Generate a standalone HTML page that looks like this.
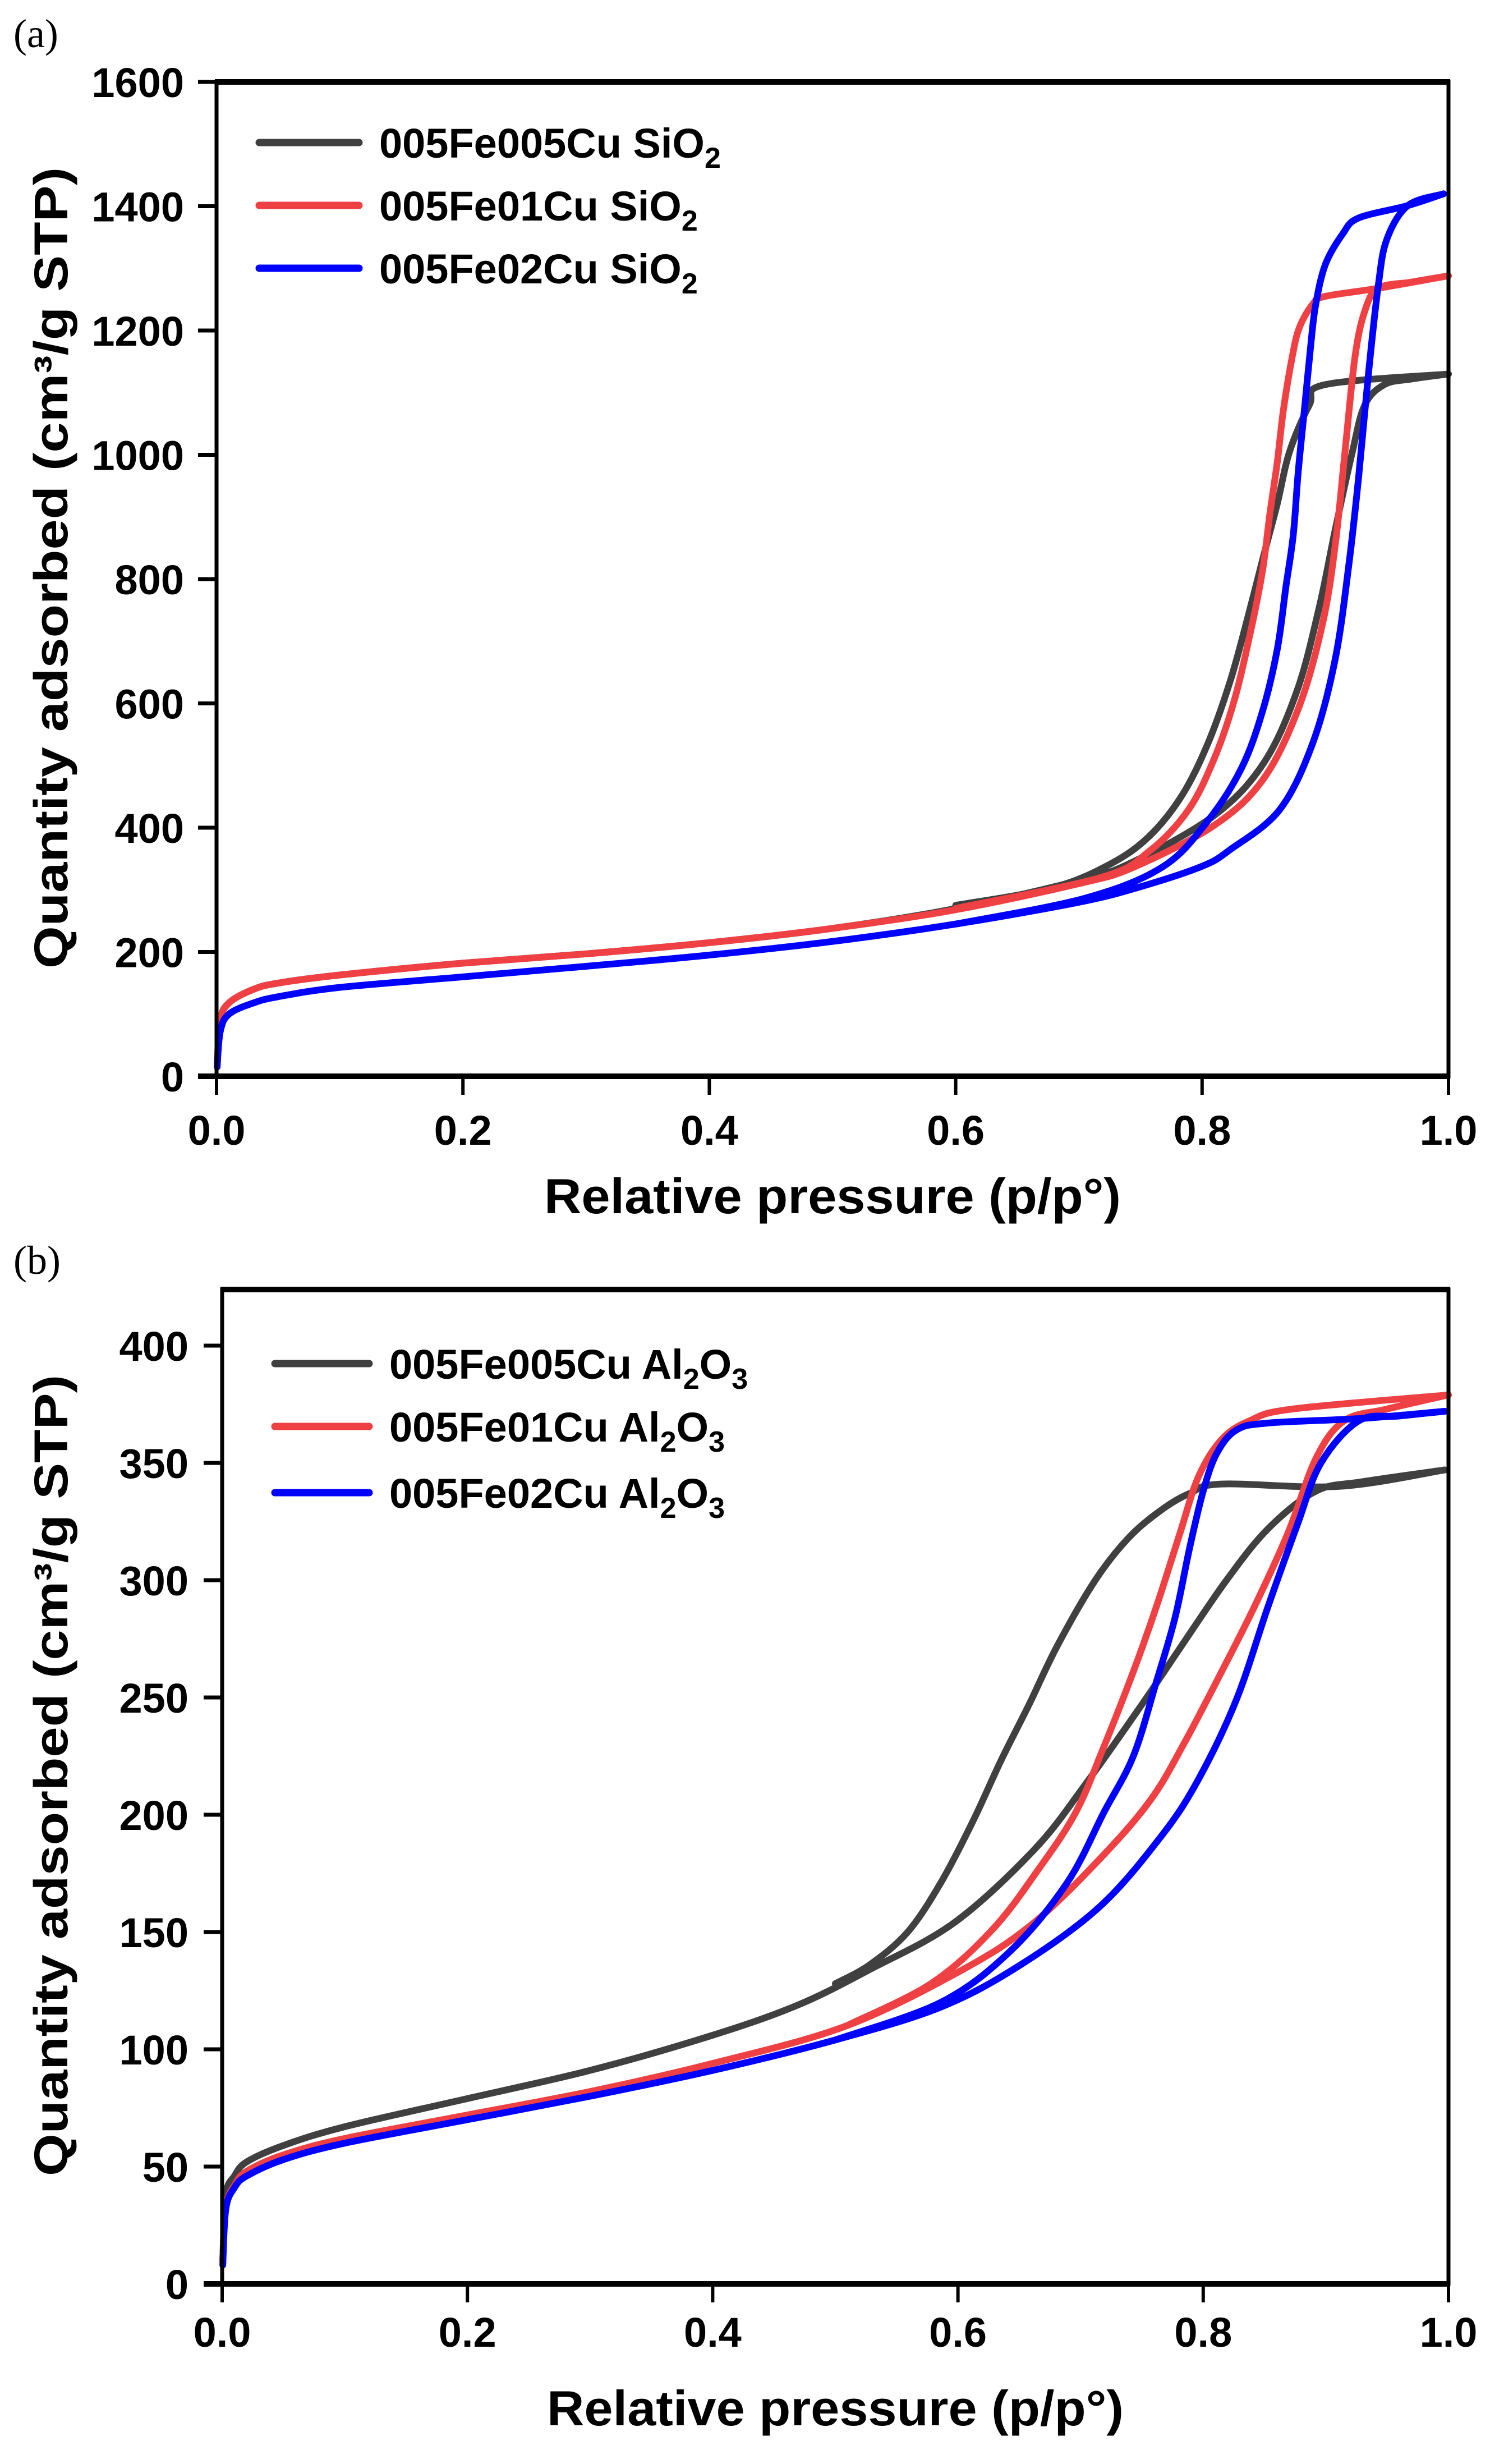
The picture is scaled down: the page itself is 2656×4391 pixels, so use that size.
<!DOCTYPE html>
<html><head><meta charset="utf-8"><style>
html,body{margin:0;padding:0;background:#fff}
svg{display:block}
text{font-family:"Liberation Sans",Arial,sans-serif;font-weight:bold;fill:#000}
</style></head><body>
<svg id="fig" width="2656" height="4391" viewBox="0 0 2656 4391" xmlns="http://www.w3.org/2000/svg">
<rect width="2656" height="4391" fill="#fff"/>
</svg>
<script>
// ===== Panel (a) data: SiO2 =====
const xTicks = [0, 0.2, 0.4, 0.6, 0.8, 1.0];
const xTickLabels = ["0.0","0.2","0.4","0.6","0.8","1.0"];
const aYTicks = [0,200,400,600,800,1000,1200,1400,1600];
const bYTicks = [0,50,100,150,200,250,300,350,400];

// 005Fe005Cu SiO2
const a1AdsP = [0.0005,0.003,0.01,0.03,0.05,0.1,0.2,0.3,0.4,0.5,0.6,0.7,0.744,0.810,0.850,0.877,0.895,0.908,0.922,0.932,0.948,0.97,1.0];
const a1AdsV = [20,90,118,140,150,163,182,197,215,238,270,315,345,420,504,620,754,879,1005,1080,1113,1122,1130];
const a1DesP = [1.0,0.900,0.887,0.871,0.861,0.850,0.837,0.823,0.805,0.784,0.757,0.725,0.678,0.6];
const a1DesV = [1130,1113,1080,1005,921,838,738,637,537,453,386,341,303,275];
// 005Fe01Cu SiO2
const a2AdsP = [0.0005,0.003,0.01,0.03,0.05,0.1,0.2,0.3,0.4,0.5,0.6,0.7,0.744,0.810,0.850,0.879,0.898,0.908,0.916,0.924,0.932,0.943,0.97,1.0];
const a2AdsV = [15,88,118,140,150,163,182,197,215,238,268,310,336,404,479,596,730,854,1005,1156,1231,1268,1278,1288];
const a2DesP = [1.0,0.943,0.900,0.890,0.879,0.873,0.866,0.861,0.855,0.849,0.839,0.826,0.810,0.789,0.757,0.718,0.6];
const a2DesV = [1288,1268,1255,1243,1205,1156,1072,988,905,813,712,604,512,429,362,320,270];
// 005Fe02Cu SiO2
const a3AdsP = [0.0005,0.003,0.01,0.03,0.05,0.1,0.2,0.3,0.4,0.5,0.6,0.7,0.75,0.8,0.823,0.863,0.890,0.908,0.919,0.927,0.935,0.943,0.950,0.967,0.996];
const a3AdsV = [15,72,100,118,128,143,160,177,195,217,245,280,305,338,365,429,537,671,821,963,1130,1272,1347,1401,1420];
const a3DesP = [0.996,0.967,0.927,0.914,0.900,0.892,0.888,0.883,0.878,0.874,0.868,0.861,0.849,0.832,0.805,0.768,0.704,0.6];
const a3DesV = [1420,1401,1381,1355,1306,1239,1172,1072,972,871,787,687,587,496,412,337,286,245];

// ===== Panel (b) data: Al2O3 =====
const b1AdsP = [0.0005,0.003,0.01,0.02,0.05,0.1,0.2,0.3,0.4,0.47,0.528,0.597,0.662,0.704,0.750,0.781,0.819,0.853,0.892,0.93,0.997];
const b1AdsV = [10,38,46,52,59,67,79,91,106,119,134,154,185,213,247,271,300,322,338,342,347];
const b1DesP = [0.997,0.911,0.815,0.789,0.766,0.739,0.712,0.681,0.658,0.635,0.612,0.586,0.559,0.528,0.5];
const b1DesV = [347,340,341,337,330,318,300,272,247,223,197,171,150,136,128];
const b2AdsP = [0.0005,0.003,0.01,0.02,0.05,0.1,0.2,0.3,0.4,0.509,0.604,0.662,0.719,0.758,0.785,0.815,0.842,0.869,0.892,0.915,0.95,1.0];
const b2AdsV = [10,33,42,48,55,62,72,82,94,110,134,154,183,207,231,261,289,320,352,368,373,379];
const b2DesP = [1.0,0.873,0.838,0.815,0.796,0.781,0.762,0.743,0.719,0.696,0.666,0.628,0.578,0.509];
const b2DesV = [379,373,368,360,344,320,289,261,229,201,177,151,128,110];
const b3AdsP = [0.0005,0.003,0.01,0.02,0.05,0.1,0.2,0.3,0.4,0.5,0.586,0.651,0.716,0.766,0.796,0.827,0.853,0.877,0.896,0.927,0.96,0.997];
const b3AdsV = [8,32,41,46,53,60,70,80,91,104,118,136,161,191,215,249,289,324,350,368,370,372];
const b3DesP = [0.997,0.930,0.853,0.827,0.811,0.800,0.789,0.777,0.762,0.743,0.719,0.689,0.643,0.586,0.5];
const b3DesV = [372,369,367,364,354,338,314,284,257,225,201,171,142,120,104];

const COLORS = {black:"#404040", red:"#EF4043", blue:"#0000FF"};
const NS = "http://www.w3.org/2000/svg";
const svg = document.getElementById("fig");

function mk(tag, attrs, parent){
  const e = document.createElementNS(NS, tag);
  for (const k in attrs) e.setAttribute(k, attrs[k]);
  (parent||svg).appendChild(e);
  return e;
}

function smoothPath(pts){
  let d = "M" + pts[0][0].toFixed(1) + "," + pts[0][1].toFixed(1);
  for (let i=0;i<pts.length-1;i++){
    const p0 = pts[Math.max(0,i-1)], p1 = pts[i], p2 = pts[i+1], p3 = pts[Math.min(pts.length-1,i+2)];
    const t = 6;
    const c1x = p1[0] + (p2[0]-p0[0])/t, c1y = p1[1] + (p2[1]-p0[1])/t;
    const c2x = p2[0] - (p3[0]-p1[0])/t, c2y = p2[1] - (p3[1]-p1[1])/t;
    d += " C" + c1x.toFixed(1)+","+c1y.toFixed(1)+" "+c2x.toFixed(1)+","+c2y.toFixed(1)+" "+p2[0].toFixed(1)+","+p2[1].toFixed(1);
  }
  return d;
}

function panel(cfg){
  const g = mk("g", {});
  
  
  const X = p => cfg.x0 + p*(cfg.x1-cfg.x0);
  const Y = v => cfg.y0 - v/cfg.ymaxTick*(cfg.y0-cfg.yTickTop);

  cfg.series.forEach(s=>{
    const ads = s.aP.map((p,i)=>[X(p),Y(s.aV[i])]);
    const des = s.dP.map((p,i)=>[X(p),Y(s.dV[i])]);
    const pa = mk("path",{d:smoothPath(ads),fill:"none",stroke:s.color,"stroke-width":12,"stroke-linejoin":"round","stroke-linecap":"round"},g);
    
    
    const pd = mk("path",{d:smoothPath(des),fill:"none",stroke:s.color,"stroke-width":12,"stroke-linejoin":"round","stroke-linecap":"round"},g);
    
    
  });

  const fr = mk("rect",{x:cfg.x0,y:cfg.top,width:cfg.x1-cfg.x0,height:cfg.y0-cfg.top,fill:"none",stroke:"#000","stroke-width":7},g);
  
  
  mk("line",{x1:cfg.x0-3,x2:cfg.x1+3,y1:cfg.top,y2:cfg.top,stroke:"#000","stroke-width":10},g);
  mk("line",{x1:cfg.x0-33,x2:cfg.x1+3,y1:cfg.y0,y2:cfg.y0,stroke:"#000","stroke-width":10},g);

  xTicks.forEach((t,i)=>{
    mk("line",{x1:X(t),x2:X(t),y1:cfg.y0,y2:cfg.y0+33,stroke:"#000","stroke-width":6},g);
    const tx = mk("text",{x:X(t),y:cfg.xLabY,"text-anchor":"middle","font-size":74},g);
    tx.textContent = xTickLabels[i];
    
    
  });
  cfg.yTicks.forEach(t=>{
    mk("line",{x1:cfg.x0-33,x2:cfg.x0,y1:Y(t),y2:Y(t),stroke:"#000","stroke-width":7},g);
    const tx = mk("text",{x:cfg.yLabX,y:Y(t)+27,"text-anchor":"end","font-size":74},g);
    tx.textContent = String(t);
    
    
  });

  const xt = mk("text",{x:(cfg.x0+cfg.x1)/2,y:cfg.xTitleY,"text-anchor":"middle","font-size":88,textLength:1028,lengthAdjust:"spacingAndGlyphs"},g);
  xt.textContent = "Relative pressure (p/p°)";
  
  
  const cy = (cfg.top+cfg.y0)/2 - 20;
  const yt = mk("text",{x:0,y:0,"text-anchor":"middle","font-size":84,textLength:1428,lengthAdjust:"spacingAndGlyphs",transform:`translate(120,${cy}) rotate(-90)`},g);
  yt.textContent = "Quantity adsorbed (cm³/g STP)";
  
  

  const pl = mk("text",{x:cfg.labX,y:cfg.labY,"font-size":72,style:"font-family:'Liberation Serif',serif;font-weight:normal"},g);
  pl.textContent = cfg.label;
  
  

  cfg.series.forEach((s,i)=>{
    const ly = cfg.legY[i];
    const lg = mk("g",{},g);
    
    
    mk("line",{x1:cfg.legX1,x2:cfg.legX2,y1:ly,y2:ly,stroke:s.color,"stroke-width":13,"stroke-linecap":"round"},lg);
    const t = mk("text",{x:cfg.legX2+36,y:ly+27,"font-size":74},lg);
    const base = document.createElementNS(NS,"tspan"); base.textContent = s.label + " " + cfg.chem[0]; t.appendChild(base);
    const sub = document.createElementNS(NS,"tspan"); sub.setAttribute("dy","18"); sub.setAttribute("font-size","52"); sub.textContent = cfg.chem[1]; t.appendChild(sub);
    if (cfg.chem[2]) {
      const r = document.createElementNS(NS,"tspan"); r.setAttribute("dy","-18"); r.textContent = cfg.chem[2]; t.appendChild(r);
      const sub2 = document.createElementNS(NS,"tspan"); sub2.setAttribute("dy","18"); sub2.setAttribute("font-size","52"); sub2.textContent = cfg.chem[3]; t.appendChild(sub2);
    }
  });
}

panel({
  name:"panel-a-sio2", label:"(a)", labX:24, labY:84,
  x0:386, x1:2582, top:146, y0:1918, yTickTop:146, ymaxTick:1600,
  yTicks:aYTicks, yLabX:328, xLabY:2040, xTitleY:2162,
  legX1:462, legX2:640, legY:[254,366,478], chem:["SiO","2"],
  series:[
    {id:"005fe005cu-sio2", label:"005Fe005Cu", color:COLORS.black, aP:a1AdsP,aV:a1AdsV,dP:a1DesP,dV:a1DesV},
    {id:"005fe01cu-sio2", label:"005Fe01Cu", color:COLORS.red, aP:a2AdsP,aV:a2AdsV,dP:a2DesP,dV:a2DesV},
    {id:"005fe02cu-sio2", label:"005Fe02Cu", color:COLORS.blue, aP:a3AdsP,aV:a3AdsV,dP:a3DesP,dV:a3DesV}
  ]
});
panel({
  name:"panel-b-al2o3", label:"(b)", labX:24, labY:2270,
  x0:396, x1:2582, top:2298, y0:4070, yTickTop:4070-400*4.18, ymaxTick:400,
  yTicks:bYTicks, yLabX:336, xLabY:4182, xTitleY:4322,
  legX1:490, legX2:658, legY:[2430,2542,2660], chem:["Al","2","O","3"],
  series:[
    {id:"005fe005cu-al2o3", label:"005Fe005Cu", color:COLORS.black, aP:b1AdsP,aV:b1AdsV,dP:b1DesP,dV:b1DesV},
    {id:"005fe01cu-al2o3", label:"005Fe01Cu", color:COLORS.red, aP:b2AdsP,aV:b2AdsV,dP:b2DesP,dV:b2DesV},
    {id:"005fe02cu-al2o3", label:"005Fe02Cu", color:COLORS.blue, aP:b3AdsP,aV:b3AdsV,dP:b3DesP,dV:b3DesV}
  ]
});
</script>
</body></html>
